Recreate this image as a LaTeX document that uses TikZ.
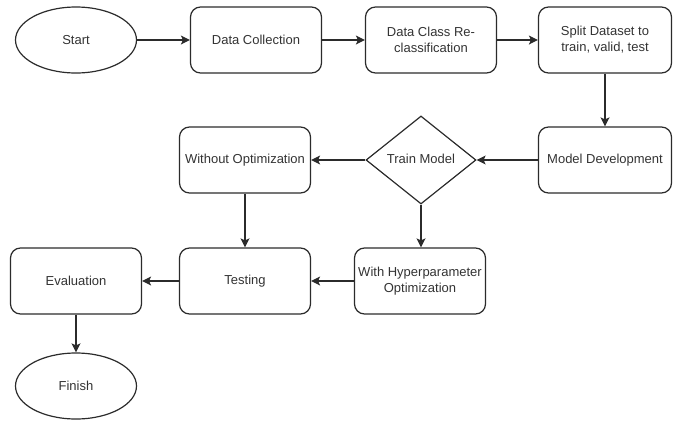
\documentclass[tikz,border=0pt]{standalone}
\usepackage{fontspec}
\setmainfont{Liberation Sans}
\usetikzlibrary{shapes.geometric,arrows.meta}
\definecolor{ln}{HTML}{2B2B2B}
\definecolor{tx}{HTML}{333333}
\begin{document}
\begin{tikzpicture}[x=1pt,y=-1pt,
  every node/.style={font=\fontsize{13}{16}\selectfont, text=tx},
  box/.style={draw=ln, line width=1.2pt, rounded corners=10pt, minimum width=131pt, minimum height=66pt, inner sep=0pt, align=center},
  term/.style={draw=ln, line width=1.2pt, ellipse, minimum width=121pt, minimum height=66pt, inner sep=0pt},
  dec/.style={draw=ln, line width=1.2pt, diamond, minimum width=110pt, minimum height=88pt, inner sep=0pt, aspect=1.25},
  arr/.style={draw=ln, line width=1.2pt, -{Stealth[length=9pt,width=9pt,inset=2pt]}}]
\useasboundingbox (0,0) rectangle (680,426);
\node[term] (start) at (76,40) {Start};
\node[box] (dc) at (256,40) {Data Collection};
\node[box] (dcr) at (431,40) {Data Class Re-\\classification};
\node[box, minimum width=133pt] (split) at (605,40) {Split Dataset to\\train, valid, test};
\node[box, minimum width=133pt] (md) at (605,160) {Model Development};
\node[dec] (tm) at (421,160) {\raisebox{3pt}{Train Model}};
\node[box] (wo) at (245,160) {Without Optimization};
\node[box] (wh) at (420,281) {With Hyperparameter\\Optimization};
\node[box] (test) at (245,281) {Testing};
\node[box] (eval) at (76,281) {Evaluation};
\node[term] (fin) at (76,386) {Finish};
\draw[arr] (start) -- (dc);
\draw[arr] (dc) -- (dcr);
\draw[arr] (dcr) -- (split);
\draw[arr] (split) -- (md);
\draw[arr] (md) -- (tm);
\draw[arr] (tm) -- (wo);
\draw[arr] (wo) -- (test);
\draw[arr] (tm.south) -- (tm.south |- wh.north);
\draw[arr] (wh) -- (test);
\draw[arr] (test) -- (eval);
\draw[arr] (eval) -- (fin);
\end{tikzpicture}
\end{document}
